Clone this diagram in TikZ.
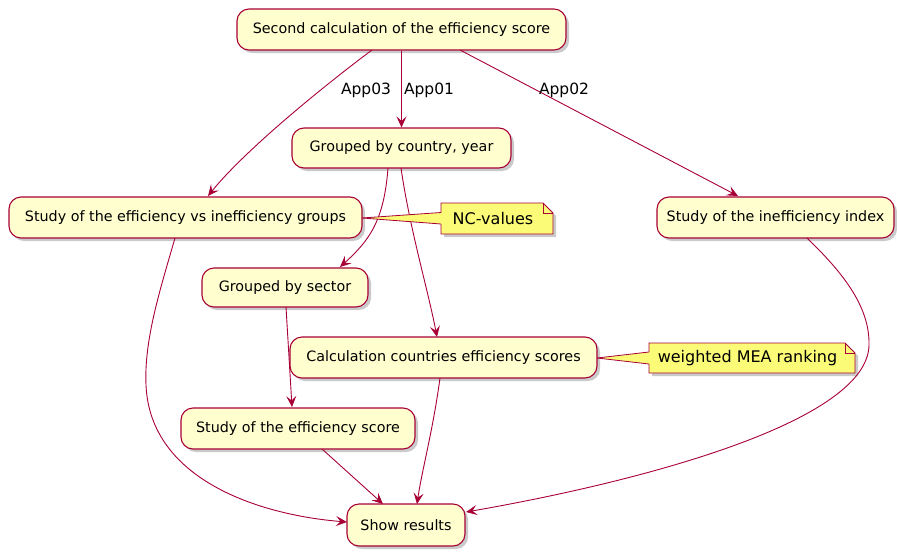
\documentclass[tikz,border=0pt]{standalone}
\usepackage{fontspec}
\setmainfont{DejaVu Sans}
\usetikzlibrary{arrows.meta,shadows}
\definecolor{plred}{HTML}{A80036}
\definecolor{plfill}{HTML}{FEFECE}
\definecolor{notefill}{HTML}{FBFB77}
\tikzset{
  act/.style={draw=plred, fill=plfill, rounded corners=12pt, line width=1.1pt,
    minimum height=41pt, inner sep=0pt, font=\fontsize{14.3}{16}\selectfont,
    drop shadow={shadow xshift=3pt, shadow yshift=-3pt, opacity=0.35, fill=black!60}},
  notepath/.style={draw=plred, fill=notefill, line width=0.8pt,
    drop shadow={shadow xshift=3pt, shadow yshift=-3pt, opacity=0.35, fill=black!60}},
  notetext/.style={font=\fontsize{16}{18}\selectfont, inner sep=0pt},
  wedge/.style={fill=notefill, draw=none},
  wedgeline/.style={draw=plred, line width=0.8pt},
  arr/.style={draw=plred, line width=0.9pt, -{Stealth[length=11pt,width=10pt,inset=4.5pt]}},
  lbl/.style={font=\fontsize{15.5}{17}\selectfont, inner sep=1pt}
}
\begin{document}
\begin{tikzpicture}[x=1pt,y=-1pt]
\useasboundingbox (0,0) rectangle (897,552);
% nodes
\node[act, minimum width=329pt] (top) at (401.5,29.5) {Second calculation of the efficiency score};
\node[act, minimum width=219pt, minimum height=40pt] (cty) at (401.5,148) {Grouped by country, year};
\node[act, minimum width=353pt] (sve) at (185.5,217.5) {Study of the efficiency vs inefficiency groups};
\node[act, minimum width=237pt] (iix) at (775.5,217.5) {Study of the inefficiency index};
\node[act, minimum width=166pt, minimum height=39pt] (sec) at (285,287.5) {Grouped by sector};
\node[act, minimum width=307pt] (calc) at (443.5,357.5) {Calculation countries efficiency scores};
\node[act, minimum width=234pt] (ses) at (298,428.5) {Study of the efficiency score};
\node[act, minimum width=118pt, minimum height=42pt] (show) at (406,525) {Show results};

% notes
\path[notepath] (441,203) -- (543,203) -- (553,213) -- (553,234) -- (441,234) -- cycle;
\draw[plred, line width=0.8pt] (543,203) -- (543,213) -- (553,213);
\node[notetext] (nc) at (493,219) {NC-values};
\path[notepath] (649,343) -- (845,343) -- (855,353) -- (855,373) -- (649,373) -- cycle;
\draw[plred, line width=0.8pt] (845,343) -- (845,353) -- (855,353);
\node[notetext] (mea) at (747.5,358.5) {weighted MEA ranking};

% edges
\draw[arr] (top.south) -- (cty.north);
\node[lbl] (l01) at (429,90) {App01};
\draw[arr] (372,50) .. controls (325,85) and (245,150) .. (208,196);
\node[lbl] (l03) at (366,90) {App03};
\draw[arr] (460,50) -- (738,196);
\node[lbl] (l02) at (564,90) {App02};
\draw[arr] (388,168) .. controls (384,220) and (370,240) .. (340,267);
\draw[arr] (401,168) .. controls (410,230) and (428,290) .. (437,337);
\draw[arr] (286,307) -- (292,407);
\draw[arr] (175,238) .. controls (160,290) and (144,340) .. (146,385) .. controls (150,480) and (260,515) .. (347,522);
\draw[arr] (322,449) -- (383,504);
\draw[arr] (440,378) .. controls (433,430) and (422,470) .. (417,504);
\draw[arr] (807,238) .. controls (840,270) and (870,305) .. (869,345) .. controls (868,420) and (650,480) .. (466,512);

% note wedges
\fill[wedge] (362,218) -- (442,212.5) -- (442,224) -- cycle;
\draw[wedgeline] (362,218) -- (441,212.5);
\draw[wedgeline] (362,218) -- (441,224);
\fill[wedge] (597,358) -- (650,352) -- (650,364) -- cycle;
\draw[wedgeline] (597,358) -- (649,352);
\draw[wedgeline] (597,358) -- (649,364);
\end{tikzpicture}
\end{document}
